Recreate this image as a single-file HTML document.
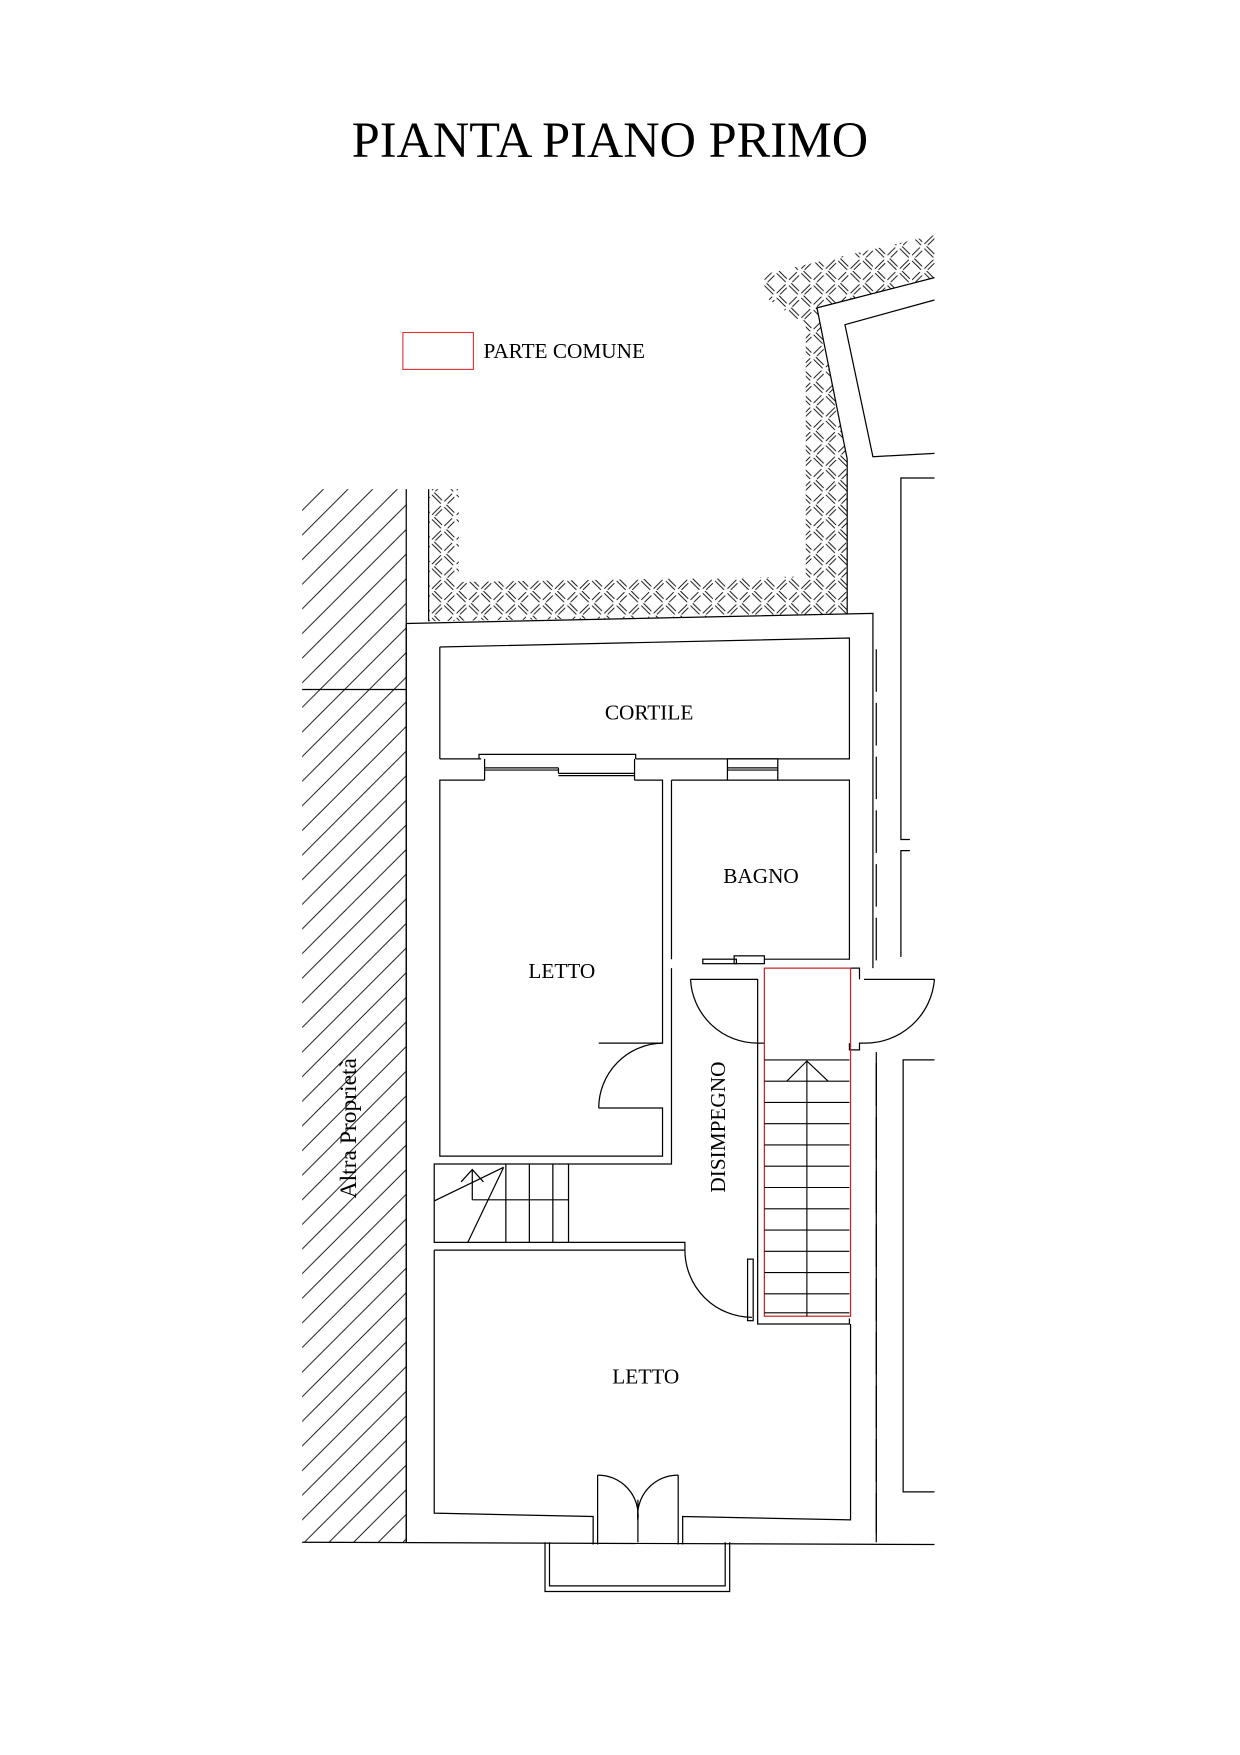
<!DOCTYPE html>
<html><head><meta charset="utf-8"><style>
html,body{margin:0;padding:0;background:#fff;}
svg{display:block;}
text{font-family:"Liberation Serif",serif;fill:#000;}
</style></head><body>
<svg width="1240" height="1755" viewBox="0 0 1108 1568" xmlns="http://www.w3.org/2000/svg">
<defs>
<pattern id="hb" width="22" height="22" patternUnits="userSpaceOnUse">
<g stroke="#000" stroke-width="0.8">
<line x1="1" y1="8" x2="8" y2="1"/><line x1="4" y1="10" x2="10" y2="4"/>
<line x1="12" y1="20" x2="20" y2="12"/><line x1="15" y1="21" x2="21" y2="15"/>
<line x1="12" y1="2" x2="20" y2="10"/><line x1="14" y1="0" x2="21" y2="7"/>
<line x1="1" y1="13" x2="9" y2="21"/><line x1="3" y1="11" x2="10" y2="18"/>
</g></pattern>
<pattern id="dg" width="22" height="22" patternUnits="userSpaceOnUse">
<line x1="0" y1="22" x2="22" y2="0" stroke="#000" stroke-width="0.8"/>
<line x1="-11" y1="11" x2="11" y2="-11" stroke="#000" stroke-width="0.8"/>
<line x1="11" y1="33" x2="33" y2="11" stroke="#000" stroke-width="0.8"/>
</pattern>
</defs>
<text x="545" y="140" font-size="45" text-anchor="middle">PIANTA PIANO PRIMO</text>
<rect x="360" y="297" width="63" height="33" fill="none" stroke="#d33" stroke-width="1"/>
<text x="432" y="320" font-size="19">PARTE COMUNE</text>

<g fill="none" stroke="#000" stroke-width="1.1">
<rect x="270" y="437" width="93" height="941" fill="url(#dg)" stroke="none"/>
<line x1="363" y1="437" x2="363" y2="1378"/>
<line x1="270" y1="616" x2="363" y2="616"/>
<line x1="383" y1="437" x2="383" y2="555"/>
<polygon points="383,437 410,437 410,520 720,515 720,290 683,265 683,245 835,210 835,248 730,275 757,410 757,549 383,555" fill="url(#hb)" stroke="none"/>
<polyline points="835,248 730,275 757,410 757,549"/>
<polyline points="835,268 755,290 780,408 835,405"/>
<polyline points="835,427 805,427 805,750 813,750"/>
<polyline points="813,760 805,760 805,855"/>
<polyline points="363,1378 363,557 780,548 780,865"/>
<line x1="270" y1="1378" x2="835" y2="1380"/>
<line x1="783" y1="940" x2="783" y2="1378"/>
<line x1="783" y1="580" x2="783" y2="860" stroke-dasharray="38,10"/>
<line x1="783" y1="950" x2="783" y2="1370" stroke-dasharray="38,10"/>
<polyline points="835,947 807,947 807,1333 835,1333"/>
<polyline points="393,578 759,570 759,678 568,678"/>
<line x1="393" y1="578" x2="393" y2="678"/>
<line x1="393" y1="678" x2="430" y2="678"/>
<polyline points="428,678 428,674 568,674 568,678"/>
<polyline points="433,678 433,697"/>
<polyline points="567,678 567,697"/>
<line x1="433" y1="686" x2="499" y2="686"/><line x1="433" y1="688" x2="499" y2="688"/>
<line x1="499" y1="686" x2="499" y2="691"/>
<line x1="499" y1="691" x2="567" y2="691"/><line x1="499" y1="693" x2="567" y2="693"/>
<rect x="650" y="678" width="45" height="19"/>
<line x1="650" y1="686" x2="695" y2="686"/><line x1="650" y1="688" x2="695" y2="688"/>
<polyline points="433,697 393,697 393,1033 592,1033 592,990 535,990"/>
<polyline points="567,697 592,697 592,932 535,932"/>
<path d="M535,990 A58,58 0 0 1 592,932" />
<polyline points="600,697 600,857"/>
<polyline points="600,865 600,1040 388,1040 388,1110 612,1110 612,1117"/>
<polyline points="695,697 759,697 759,857 683,857"/>
<polyline points="650,697 600,697"/>
<rect x="628" y="857" width="30" height="4"/>
<rect x="656" y="854" width="27" height="7"/>
<line x1="452" y1="1040" x2="452" y2="1110"/>
<line x1="473" y1="1040" x2="473" y2="1110"/>
<line x1="494" y1="1040" x2="494" y2="1110"/>
<line x1="508" y1="1040" x2="508" y2="1110"/>
<line x1="422" y1="1072" x2="508" y2="1072"/>
<line x1="422" y1="1045" x2="422" y2="1072"/>
<line x1="388" y1="1073" x2="450" y2="1043"/>
<line x1="418" y1="1110" x2="450" y2="1043"/>
<polyline points="412,1056 422,1045 432,1056"/>
<polyline points="617,875 677,875 677,1183 759,1183 759,1178"/>
<path d="M617,875 A60,60 0 0 0 677,932"/>
<line x1="677" y1="932" x2="683" y2="932"/>
<polyline points="772,875 835,875"/>
<path d="M835,875 A62,62 0 0 1 772,932"/>
<polyline points="759,932 759,938 768,938 768,932 772,932"/>
<polyline points="760,865 768,865 768,875"/>
<polyline points="388,1117 612,1117"/>
<path d="M612,1117 A60,60 0 0 0 672,1177"/>
<rect x="668" y="1125" width="5" height="55"/>
<polyline points="388,1117 388,1352 530,1355 530,1380"/>
<polyline points="610,1380 610,1355 760,1358 760,1183"/>
<polyline points="534,1318 534,1380"/>
<polyline points="606,1318 606,1380"/>
<path d="M534,1318 A36,36 0 0 1 570,1358"/>
<path d="M606,1318 A36,36 0 0 0 570,1358"/>
<line x1="570" y1="1340" x2="570" y2="1378"/>
<polyline points="487,1378 487,1422 652,1422 652,1378"/>
<polyline points="491,1378 491,1417 648,1417 648,1378"/>
</g>
<rect x="683" y="865" width="77" height="311" fill="none" stroke="#c22" stroke-width="1.1"/>
<g stroke="#000" stroke-width="1">
<line x1="683" y1="947" x2="759" y2="947"/>
<line x1="683" y1="966" x2="759" y2="966"/>
<line x1="683" y1="985" x2="759" y2="985"/>
<line x1="683" y1="1004" x2="759" y2="1004"/>
<line x1="683" y1="1023" x2="759" y2="1023"/>
<line x1="683" y1="1042" x2="759" y2="1042"/>
<line x1="683" y1="1061" x2="759" y2="1061"/>
<line x1="683" y1="1080" x2="759" y2="1080"/>
<line x1="683" y1="1099" x2="759" y2="1099"/>
<line x1="683" y1="1118" x2="759" y2="1118"/>
<line x1="683" y1="1137" x2="759" y2="1137"/>
<line x1="683" y1="1156" x2="759" y2="1156"/>
<line x1="683" y1="1173" x2="759" y2="1173"/>
<line x1="721" y1="948" x2="721" y2="1176"/>
<polyline points="703,966 721,948 740,966" fill="none"/>
</g>
<text x="580" y="643" font-size="19" text-anchor="middle">CORTILE</text>
<text x="680" y="789" font-size="19" text-anchor="middle">BAGNO</text>
<text x="502" y="874" font-size="19" text-anchor="middle">LETTO</text>
<text x="577" y="1236" font-size="19" text-anchor="middle">LETTO</text>
<text transform="translate(648,1007) rotate(-90)" font-size="19" text-anchor="middle">DISIMPEGNO</text>
<text transform="translate(318,1008) rotate(-90)" font-size="21" text-anchor="middle">Altra Proprietà</text>
</svg>
</body></html>
